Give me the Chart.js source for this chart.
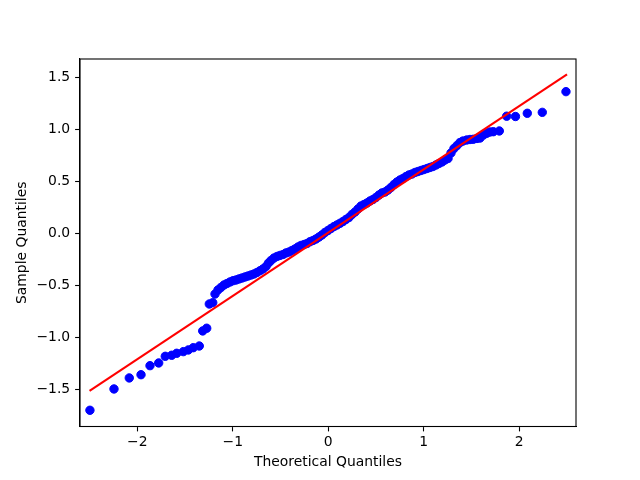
<!DOCTYPE html>
<html>
<head>
<meta charset="utf-8">
<script src="https://cdn.jsdelivr.net/npm/chart.js@4/dist/chart.umd.min.js"></script>
<style>
html,body{margin:0;padding:0;background:#fff;}
canvas{display:block;}
</style>
</head>
<body>
<canvas id="c" width="640" height="480"></canvas>
<script>
// Theoretical quantiles (x) and sample quantiles (y)
const theoretical = [
  -2.496,-2.244,-2.084,-1.961,-1.867,-1.776,-1.707,-1.640,-1.587,-1.518,-1.466,-1.414,-1.351,-1.315,-1.273,-1.246,-1.210,-1.186,
  -1.155,-1.124,-1.092,-1.061,-1.029,-0.998,-0.966,-0.935,-0.904,-0.872,-0.841,-0.809,-0.778,-0.747,-0.715,-0.684,-0.652,-0.626,
  -0.600,-0.569,-0.537,-0.506,-0.474,-0.443,-0.411,-0.380,-0.349,-0.317,-0.286,-0.254,-0.223,-0.192,-0.160,-0.129,-0.097,-0.066,
  -0.035,-0.003,0.028,0.060,0.091,0.123,0.154,0.185,0.217,0.248,0.280,0.311,0.342,0.374,0.405,0.437,0.468,0.499,
  0.531,0.562,0.594,0.625,0.656,0.688,0.719,0.751,0.782,0.814,0.845,0.876,0.908,0.939,0.971,1.002,1.034,1.065,
  1.096,1.128,1.159,1.191,1.222,1.254,1.285,1.316,1.348,1.379,1.410,1.449,1.484,1.518,1.557,1.589,1.625,1.659,
  1.693,1.728,1.791,1.868,1.960,2.084,2.241,2.489
];
const sample = [
  -1.702,-1.497,-1.391,-1.360,-1.273,-1.247,-1.183,-1.173,-1.154,-1.138,-1.122,-1.100,-1.084,-0.939,-0.913,-0.680,-0.667,-0.584,
  -0.545,-0.521,-0.497,-0.483,-0.468,-0.456,-0.449,-0.439,-0.430,-0.420,-0.411,-0.401,-0.391,-0.377,-0.360,-0.343,-0.319,-0.286,
  -0.262,-0.238,-0.223,-0.213,-0.204,-0.189,-0.180,-0.165,-0.151,-0.132,-0.117,-0.108,-0.098,-0.081,-0.069,-0.055,-0.036,-0.016,
  0.008,0.027,0.046,0.065,0.080,0.096,0.113,0.133,0.152,0.181,0.205,0.234,0.262,0.277,0.291,0.311,0.325,0.344,
  0.368,0.388,0.397,0.416,0.440,0.469,0.493,0.513,0.527,0.546,0.561,0.570,0.585,0.594,0.604,0.613,0.623,0.633,
  0.642,0.657,0.671,0.686,0.705,0.719,0.772,0.815,0.844,0.873,0.887,0.897,0.902,0.904,0.912,0.916,0.945,0.962,
  0.974,0.977,0.984,1.126,1.123,1.154,1.163,1.362
];
// Reference line endpoints
const lineX = [-2.50, 2.50];
const lineY = [-1.515, 1.527];
// Tick labels
const xTicks = [-2, -1, 0, 1, 2];
const yTicks = [-1.5, -1.0, -0.5, 0.0, 0.5, 1.0, 1.5];

const n = Math.min(theoretical.length, sample.length);
const pts = [];
for (let i = 0; i < n; i++) pts.push({x: theoretical[i], y: sample[i]});
const linePts = lineX.map((x, i) => ({x: x, y: lineY[i]}));

const FONT = {family: '"DejaVu Sans", sans-serif', size: 13.9, lineHeight: 1.2};
const fmt = (v, d) => {
  const num = Number(v);
  return (num < 0 ? '\u2212' : '') + Math.abs(num).toFixed(d);
};

const frame = {
  id: 'frame',
  afterDatasetsDraw(chart) {
    const a = chart.chartArea, ctx = chart.ctx;
    ctx.save();
    ctx.strokeStyle = '#000';
    ctx.lineWidth = 1.1;
    ctx.strokeRect(a.left, a.top, a.right - a.left, a.bottom - a.top);
    ctx.restore();
  }
};

new Chart(document.getElementById('c'), {
  type: 'scatter',
  data: {
    datasets: [
      {
        type: 'line',
        data: linePts,
        borderColor: '#ff0000',
        borderWidth: 2.1,
        pointRadius: 0,
        fill: false,
        tension: 0,
        order: 0
      },
      {
        data: pts,
        backgroundColor: '#0000ff',
        borderColor: '#0000ff',
        borderWidth: 1,
        pointRadius: 4.2,
        order: 1
      }
    ]
  },
  options: {
    responsive: false,
    animation: false,
    devicePixelRatio: 1,
    layout: {padding: {left: 0, right: 64, top: 59, bottom: 0}},
    plugins: {legend: {display: false}, tooltip: {enabled: false}},
    scales: {
      x: {
        type: 'linear',
        min: -2.60, max: 2.594,
        afterFit(s) { s.height = 53.5; },
        afterBuildTicks(s) { s.ticks = xTicks.map(v => ({value: v})); },
        ticks: {
          color: '#000', font: FONT, padding: 3,
          callback: v => fmt(v, 0)
        },
        grid: {drawOnChartArea: false, drawTicks: true, tickLength: 4.9, tickColor: '#000', tickWidth: 1.1},
        border: {display: true, color: '#000', width: 1.1},
        title: {display: true, text: 'Theoretical Quantiles', color: '#000', font: FONT, padding: {top: 0, bottom: 9.4}}
      },
      y: {
        type: 'linear',
        min: -1.858, max: 1.676,
        afterFit(s) { s.width = 80; },
        afterBuildTicks(s) { s.ticks = yTicks.map(v => ({value: v})); },
        ticks: {
          color: '#000', font: FONT, padding: 4.9,
          callback: v => fmt(v, 1)
        },
        grid: {drawOnChartArea: false, drawTicks: true, tickLength: 4.9, tickColor: '#000', tickWidth: 1.1},
        border: {display: true, color: '#000', width: 1.1},
        title: {display: true, text: 'Sample Quantiles', color: '#000', font: FONT, padding: {top: 14.4, bottom: 0}}
      }
    }
  },
  plugins: [frame]
});
</script>
</body>
</html>
